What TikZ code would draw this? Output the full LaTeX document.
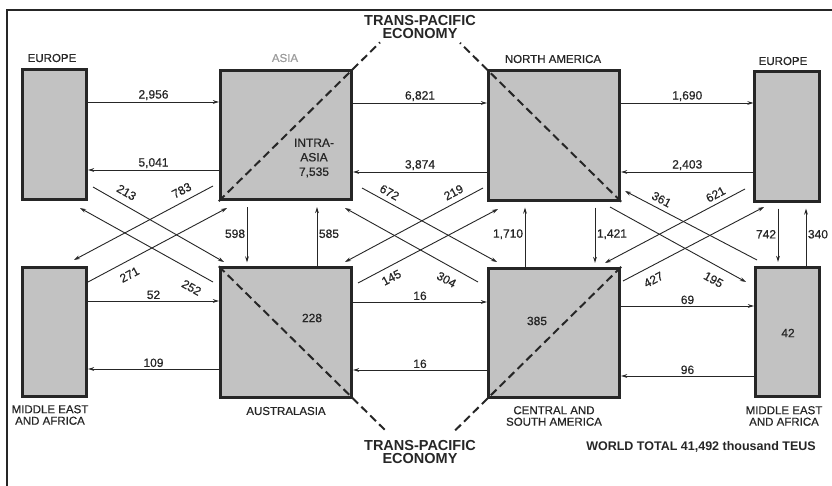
\documentclass[tikz,border=0pt]{standalone}
\usepackage{fontspec}
\setmainfont{Liberation Sans}
\newfontfamily\medfont[FakeBold=0.6]{Liberation Sans}
\usetikzlibrary{arrows.meta,calc}
\definecolor{boxfill}{HTML}{C2C2C2}
\definecolor{ink}{HTML}{262626}
\definecolor{asiagray}{HTML}{9C9C9C}
\tikzset{
  region/.style={draw=ink, fill=boxfill, line width=2.8pt, inner sep=0pt, minimum height=129.5pt},
  narrowbox/.style={region, minimum width=64.5pt},
  widebox/.style={region, minimum width=131.5pt},
  flow/.style={draw=ink, line width=0.9pt, -{Stealth[length=6pt,width=3.8pt]}},
  num/.style={font=\medfont\fontsize{12}{14}\selectfont, text=ink, inner sep=1.5pt},
  lbl/.style={font=\medfont\fontsize{11.5}{11.5}\selectfont, text=ink, align=center, inner sep=0pt},
  econ/.style={font=\fontsize{14.5}{13.5}\selectfont\bfseries, text=ink, align=center, inner sep=0pt},
  divide/.style={draw=ink, line width=2pt, dash pattern=on 8pt off 4.5pt},
  frameline/.style={draw=ink, line width=1.2pt},
}
\begin{document}
\begin{tikzpicture}[x=1pt,y=-1pt]
\useasboundingbox (0,0) rectangle (832,486);
\fill[white] (0,0) rectangle (832,486);
\draw[frameline] (7,486) -- (7,10) -- (832,10);

% region boxes
\node[narrowbox] (eul) at (54.5,134.5) {};
\node[widebox]   (asia) at (286,135) {};
\node[widebox]   (na) at (554,135.5) {};
\node[narrowbox] (eur) at (787,136.5) {};
\node[narrowbox] (mel) at (54.5,332) {};
\node[widebox]   (aus) at (286,332.5) {};
\node[widebox]   (csa) at (554,333) {};
\node[narrowbox] (mer) at (787.5,332) {};

% trans-pacific dividing lines
\draw[divide] (asia.south west) -- ($(asia.south west)!1.2!(asia.north east)$);
\draw[divide] (na.south east) -- ($(na.south east)!1.2!(na.north west)$);
\draw[divide] (aus.north west) -- ($(aus.north west)!1.235!(aus.south east)$);
\draw[divide] (csa.north east) -- ($(csa.north east)!1.25!(csa.south west)$);

% region labels
\node[lbl] (leu) at (52,58) {EUROPE};
\node[lbl, text=asiagray] (las) at (285,58) {ASIA};
\node[lbl] (lna) at (553,59) {NORTH AMERICA};
\node[lbl] (lre) at (783,61) {EUROPE};
\node[lbl] (lml) at (50,415) {MIDDLE EAST\\AND AFRICA};
\node[lbl] (lau) at (286,411) {AUSTRALASIA};
\node[lbl] (lcs) at (554,416) {CENTRAL AND\\SOUTH AMERICA};
\node[lbl] (lmr) at (784,416) {MIDDLE EAST\\AND AFRICA};
\node[econ] (tpt) at (420,27) {TRANS-PACIFIC\\ECONOMY};
\node[econ] (tpb) at (420,452) {TRANS-PACIFIC\\ECONOMY};
\node[font=\fontsize{12.5}{13}\selectfont\bfseries, text=ink, inner sep=0pt] (wt) at (701,447) {WORLD TOTAL 41,492 thousand TEUS};

% values inside boxes
\node[num, align=center, font=\medfont\fontsize{12}{14.5}\selectfont] (ia) at (314,158) {INTRA-\\ASIA\\7,535};
\node[num] (v228) at (312,318) {228};
\node[num] (v385) at (537,321) {385};
\node[num] (v42) at (788,333) {42};

% horizontal flows, top row
\draw[flow] (eul.east |- 0,102) -- node[num,above]{2,956} (asia.west |- 0,102);
\draw[flow] (asia.west |- 0,170) -- node[num,above]{5,041} (eul.east |- 0,170);
\draw[flow] (asia.east |- 0,103) -- node[num,above]{6,821} (na.west |- 0,103);
\draw[flow] (na.west |- 0,172) -- node[num,above]{3,874} (asia.east |- 0,172);
\draw[flow] (na.east |- 0,103) -- node[num,above]{1,690} (eur.west |- 0,103);
\draw[flow] (eur.west |- 0,172) -- node[num,above]{2,403} (na.east |- 0,172);
% horizontal flows, bottom row
\draw[flow] (mel.east |- 0,301) -- node[num,above]{52} (aus.west |- 0,301);
\draw[flow] (aus.west |- 0,369) -- node[num,above]{109} (mel.east |- 0,369);
\draw[flow] (aus.east |- 0,302) -- node[num,above]{16} (csa.west |- 0,302);
\draw[flow] (csa.west |- 0,370) -- node[num,above]{16} (aus.east |- 0,370);
\draw[flow] (csa.east |- 0,306) -- node[num,above]{69} (mer.west |- 0,306);
\draw[flow] (mer.west |- 0,376) -- node[num,above]{96} (csa.east |- 0,376);

% vertical flows
\draw[flow, shorten <=6pt, shorten >=4pt] (asia.south -| 247,0) -- node[num,left]{598} (aus.north -| 247,0);
\draw[flow, shorten >=6pt] (aus.north -| 317,0) -- node[num,right]{585} (asia.south -| 317,0);
\draw[flow, shorten >=6pt] (csa.north -| 525,0) -- node[num,left]{1,710} (na.south -| 525,0);
\draw[flow, shorten <=6pt, shorten >=4pt] (na.south -| 595,0) -- node[num,right]{1,421} (csa.north -| 595,0);
\draw[flow, shorten <=6pt, shorten >=4pt] (eur.south -| 778,0) -- node[num,left]{742} (mer.north -| 778,0);
\draw[flow, shorten >=6pt] (mer.north -| 806,0) -- node[num,right]{340} (eur.south -| 806,0);

% diagonal flow end points
\coordinate (a213) at (93,187);  \coordinate (b213) at (224,262);
\coordinate (a783) at (213,186); \coordinate (b783) at (74,260);
\coordinate (a252) at (213,282); \coordinate (b252) at (80,208);
\coordinate (a271) at (88,282);  \coordinate (b271) at (227,208);
\coordinate (a672) at (362,188); \coordinate (b672) at (497,262);
\coordinate (a219) at (483,188); \coordinate (b219) at (345,262);
\coordinate (a304) at (478,282); \coordinate (b304) at (345,208);
\coordinate (a145) at (358,283); \coordinate (b145) at (498,209);
\coordinate (a195) at (610,207); \coordinate (b195) at (746,282);
\coordinate (a361) at (757,260); \coordinate (b361) at (625,191);
\coordinate (a621) at (745,189); \coordinate (b621) at (605,263);
\coordinate (a427) at (623,281); \coordinate (b427) at (764,207);

\draw[flow] (a213) -- (b213);
\draw[flow] (a783) -- (b783);
\draw[flow] (a252) -- (b252);
\draw[flow] (a271) -- (b271);
\draw[flow] (a672) -- (b672);
\draw[flow] (a219) -- (b219);
\draw[flow] (a304) -- (b304);
\draw[flow] (a145) -- (b145);
\draw[flow] (a195) -- (b195);
\draw[flow] (a361) -- (b361);
\draw[flow] (a621) -- (b621);
\draw[flow] (a427) -- (b427);

% diagonal labels
\node[num, rotate=-30] (t213) at (126.5,192.4) {213};
\node[num, rotate=28]  (t783) at (181.6,190.4) {783};
\node[num, rotate=-29] (t252) at (191.5,287.6) {252};
\node[num, rotate=28]  (t271) at (129.4,274.6) {271};
\node[num, rotate=-29] (t672) at (389.5,192.4) {672};
\node[num, rotate=28]  (t219) at (453.6,192.4) {219};
\node[num, rotate=-29] (t304) at (446.5,279.6) {304};
\node[num, rotate=28]  (t145) at (391.4,277.6) {145};
\node[num, rotate=-29] (t195) at (713.5,279.6) {195};
\node[num, rotate=-28] (t361) at (661.5,199.4) {361};
\node[num, rotate=28]  (t621) at (715.6,194.4) {621};
\node[num, rotate=28]  (t427) at (653.4,279.6) {427};
\end{tikzpicture}
\end{document}
